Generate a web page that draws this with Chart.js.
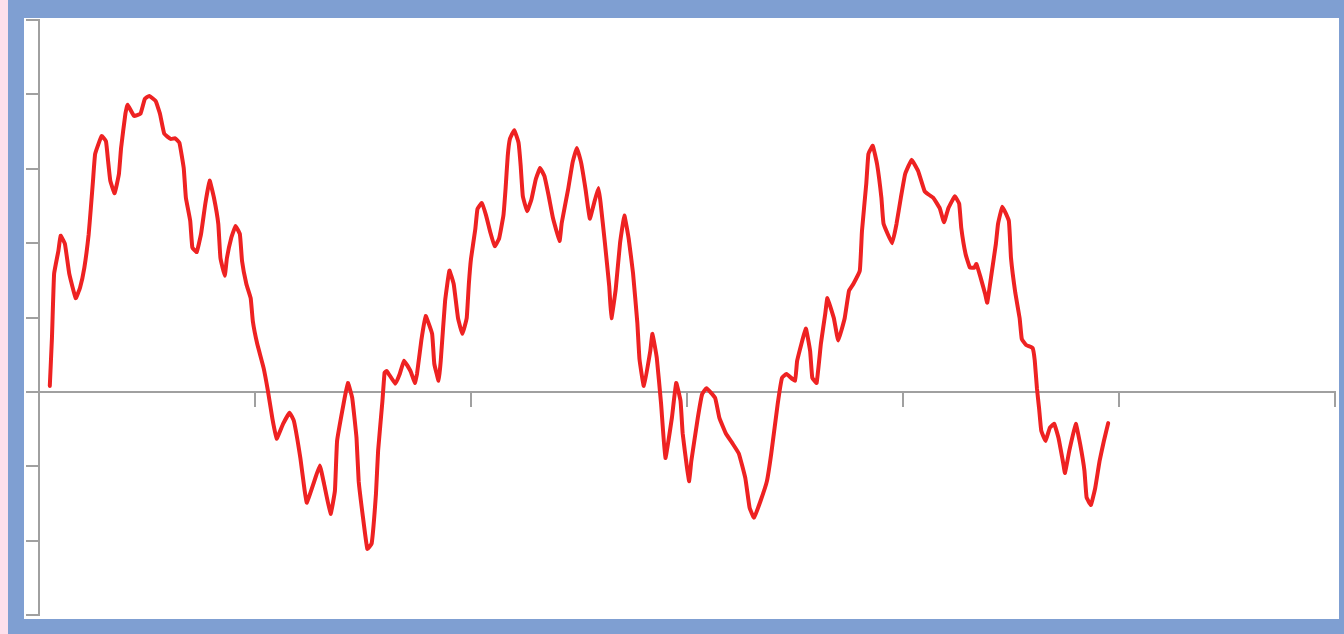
<!DOCTYPE html>
<html>
<head>
<meta charset="utf-8">
<script src="https://cdn.jsdelivr.net/npm/chart.js@4.4.1/dist/chart.umd.min.js"></script>
<style>
    html, body { margin: 0; padding: 0; }
    body { width: 1344px; height: 634px; background: #7f9fd2; position: relative; overflow: hidden; }
    #strip { position: absolute; left: 0; top: 0; width: 8px; height: 634px; background: #fde0ec; }
    #panel { position: absolute; left: 24px; top: 18px; width: 1315px; height: 601px; background: #ffffff; }
    #chartCanvas { position: absolute; left: 0; top: 0; }
</style>
</head>
<body>
<div id="strip"></div>
<div id="panel">
    <canvas id="chartCanvas" width="1315" height="601"></canvas>
</div>
<script>
// x en unitats de l'eix (0..6), y en unitats (-3..5)
const xs = [
    0.05,0.06,0.07,0.09,0.10,0.12,0.14,0.17,0.19,0.21,0.23,0.24,0.25,0.26,0.29,0.31,0.32,0.33,0.35,0.37,0.38,0.40,0.41,0.44,0.47,0.49,0.51,0.54,0.56,0.58,0.61,0.63,0.65,0.67,0.68,0.70,0.71,0.73,0.75,0.77,0.79,0.81,0.83,0.84,0.86,0.87,0.89,0.91,0.93,0.94,0.96,
    0.98,0.99,1.01,1.04,1.06,1.08,1.10,1.13,1.16,1.18,1.21,1.23,1.24,1.27,1.30,1.32,1.35,1.37,1.38,1.41,1.43,1.45,1.47,1.48,1.50,1.52,1.54,1.56,1.57,1.59,1.60,1.61,1.65,1.67,1.69,1.72,1.74,1.75,1.77,1.79,1.82,1.83,1.85,1.86,1.88,1.90,1.92,1.94,1.96,1.98,1.99,
    2.00,2.02,2.03,2.05,2.07,2.09,2.11,2.13,2.15,2.16,2.17,2.18,2.20,2.22,2.23,2.24,2.26,2.28,2.30,2.32,2.34,2.36,2.38,2.41,2.42,2.45,2.47,2.49,2.51,2.53,2.55,2.57,2.59,2.60,2.62,2.64,2.65,2.67,2.69,2.71,2.73,2.75,2.77,2.78,2.80,
    2.83,2.84,2.86,2.88,2.90,2.93,2.95,2.97,2.98,3.00,3.01,3.02,3.05,3.07,3.09,3.13,3.15,3.18,3.21,3.24,3.27,3.29,3.31,3.34,3.37,3.39,3.42,3.44,3.46,3.50,3.51,3.55,3.57,3.58,3.60,3.62,3.64,3.65,3.68,3.70,3.73,3.75,3.77,
    3.80,3.81,3.83,3.84,3.86,3.88,3.90,3.91,3.95,3.97,3.99,4.01,4.04,4.07,4.10,4.12,4.14,4.17,4.19,4.21,4.24,4.26,4.27,4.29,4.31,4.33,4.34,4.36,4.38,4.39,4.41,4.43,4.44,4.46,4.49,4.50,4.52,4.54,4.55,4.57,4.60,4.61,4.62,4.63,4.64,4.66,4.68,4.70,4.72,4.74,4.75,4.77,4.80,4.82,4.84,4.85,4.87,4.89,4.91,4.93,4.95
];
const ys = [
    0.08,0.73,1.59,1.90,2.10,1.99,1.59,1.26,1.40,1.67,2.12,2.47,2.84,3.20,3.44,3.37,3.10,2.84,2.67,2.93,3.28,3.74,3.86,3.71,3.74,3.94,3.98,3.91,3.74,3.47,3.40,3.41,3.35,3.01,2.61,2.30,1.94,1.88,2.12,2.53,2.84,2.61,2.26,1.80,1.56,1.80,2.07,2.23,2.12,1.76,1.45,
    1.26,0.95,0.65,0.32,0.01,-0.35,-0.63,-0.43,-0.28,-0.39,-0.89,-1.33,-1.49,-1.24,-0.99,-1.24,-1.64,-1.33,-0.66,-0.16,0.12,-0.08,-0.62,-1.20,-1.69,-2.11,-2.04,-1.37,-0.79,-0.12,0.26,0.28,0.11,0.24,0.42,0.28,0.12,0.24,0.69,1.02,0.78,0.38,0.15,0.42,1.22,1.63,1.45,0.99,0.78,0.99,1.45,
    1.79,2.19,2.46,2.54,2.37,2.14,1.96,2.06,2.37,2.73,3.17,3.40,3.52,3.35,3.04,2.63,2.43,2.59,2.86,3.01,2.90,2.63,2.33,2.03,2.27,2.73,3.08,3.28,3.08,2.73,2.33,2.54,2.74,2.54,2.00,1.42,0.99,1.38,2.00,2.37,2.06,1.60,0.93,0.44,0.08,
    0.55,0.78,0.46,-0.16,-0.89,-0.35,0.12,-0.12,-0.56,-1.02,-1.20,-0.93,-0.35,-0.03,0.05,-0.08,-0.35,-0.56,-0.69,-0.83,-1.16,-1.56,-1.69,-1.47,-1.20,-0.83,-0.16,0.19,0.24,0.15,0.42,0.85,0.55,0.19,0.12,0.65,1.05,1.26,0.99,0.69,0.99,1.36,1.45,
    1.63,2.16,2.80,3.20,3.31,3.06,2.61,2.26,2.00,2.26,2.61,2.93,3.12,2.97,2.70,2.65,2.61,2.47,2.28,2.47,2.63,2.53,2.20,1.85,1.67,1.67,1.72,1.53,1.32,1.20,1.59,1.99,2.26,2.49,2.30,1.80,1.33,0.99,0.71,0.63,0.59,0.42,0.05,-0.22,-0.52,-0.66,-0.48,-0.43,-0.62,-0.93,-1.09,-0.79,-0.43,-0.70,-1.06,-1.42,-1.52,-1.29,-0.93,-0.66,-0.42
];
const xMin = 0, xMax = 6;
const yMin = -3, yMax = 5;

const axisColor = '#a0a0a0';
const punts = xs.map((x, i) => ({ x, y: ys[i] }));

new Chart(document.getElementById('chartCanvas'), {
    type: 'scatter',
    data: {
        datasets: [{
            data: punts,
            showLine: true,
            borderColor: '#ee2222',
            borderWidth: 4,
            borderJoinStyle: 'round',
            borderCapStyle: 'round',
            pointRadius: 0,
            tension: 0.1
        }]
    },
    options: {
        responsive: false,
        animation: false,
        devicePixelRatio: 1,
        layout: { padding: { top: 2, right: 4, bottom: 4, left: 0 } },
        plugins: { legend: { display: false }, tooltip: { enabled: false } },
        scales: {
            x: {
                type: 'linear',
                position: { y: 0 },
                min: xMin, max: xMax,
                ticks: { display: false, stepSize: 1 },
                grid: { drawOnChartArea: false, tickLength: 14, color: axisColor, lineWidth: 2 },
                border: { display: true, color: axisColor, width: 2 },
                afterFit: s => { s.height = 0; }
            },
            y: {
                type: 'linear',
                min: yMin, max: yMax,
                ticks: { display: false, stepSize: 1 },
                grid: { drawOnChartArea: false, tickLength: 13, color: axisColor, lineWidth: 2 },
                border: { display: true, color: axisColor, width: 2 },
                afterFit: s => { s.width = 15; }
            }
        }
    }
});
</script>
</body>
</html>
